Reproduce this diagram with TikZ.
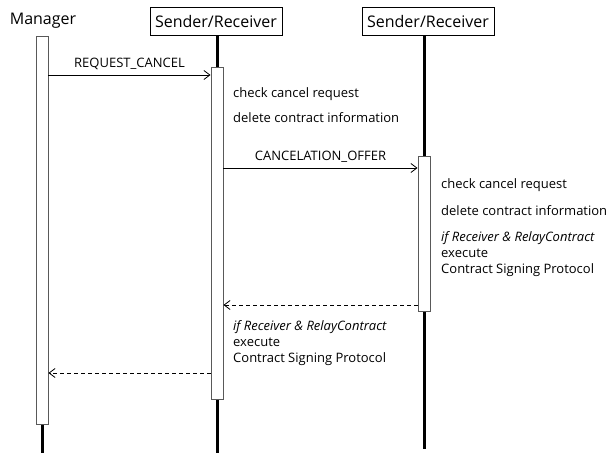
\documentclass[tikz,border=0pt]{standalone}
\usepackage{fontspec}
\setmainfont{Open Sans}
\usetikzlibrary{arrows.meta,positioning}

\tikzset{
  actor/.style={draw,line width=0.8pt,minimum width=132pt,minimum height=28pt,inner sep=0pt,font=\fontsize{16}{19}\selectfont},
  activ/.style={draw=black!65,line width=0.9pt,fill=white,minimum width=12pt,inner sep=0pt},
  life/.style={line width=3pt},
  msg/.style={line width=0.8pt,-{Straight Barb[length=6pt,width=9pt]}},
  reply/.style={msg,dash pattern=on 4pt off 3pt},
  lbl/.style={inner sep=0pt,anchor=base,yshift=8pt,font=\fontsize{13}{16}\selectfont},
  note/.style={anchor=west,align=left,inner sep=0pt,font=\fontsize{13}{16}\selectfont},
}

\begin{document}
\begin{tikzpicture}[x=1pt,y=-1pt]
      \useasboundingbox (0,0) rectangle (610,453);
      \path
      (43,21) node[font=\fontsize{16}{19}\selectfont](mgr) {Manager}
      (216,21.5) node[actor](sr1) {Sender/Receiver}
      (428,21.5) node[actor](sr2) {Sender/Receiver}
      (42,453) coordinate(end0)
      (217,453) coordinate(end1)
      (424,449) coordinate(end2)
      ;

      % lifelines
      \draw[life] (42,36) -- (end0);
      \draw[life] (sr1.south -| end1) -- (end1);
      \draw[life] (sr2.south -| end2) -- (end2);

      % activation bars
      \path
      (42,230) node[activ,minimum height=388pt](act0) {}
      (217,233) node[activ,minimum height=332pt](act1) {}
      (424,233.5) node[activ,minimum height=155pt](act2) {}
      ;

      % notes
      \path
      (233,94) node[note](chk1) {check cancel request}
      (233,118) node[note](del1) {delete contract information}
      (441,185) node[note](chk2) {check cancel request}
      (441,211) node[note](del2) {delete contract information}
      (441,254) node[note](if2) {\textit{if Receiver \& RelayContract}\\execute\\Contract Signing Protocol}
      (233,343) node[note](if1) {\textit{if Receiver \& RelayContract}\\execute\\Contract Signing Protocol}
      ;

      % messages
      \draw[msg] (act0.east |- 0,75) -- node[lbl] {REQUEST\_CANCEL} (act1.west |- 0,75);
      \draw[msg] (act1.east |- 0,168) -- node[lbl] {CANCELATION\_OFFER} (act2.west |- 0,168);
      \draw[reply] (act2.west |- 0,305) -- (act1.east |- 0,305);
      \draw[reply] (act1.west |- 0,373) -- (act0.east |- 0,373);
    \end{tikzpicture}
\end{document}
